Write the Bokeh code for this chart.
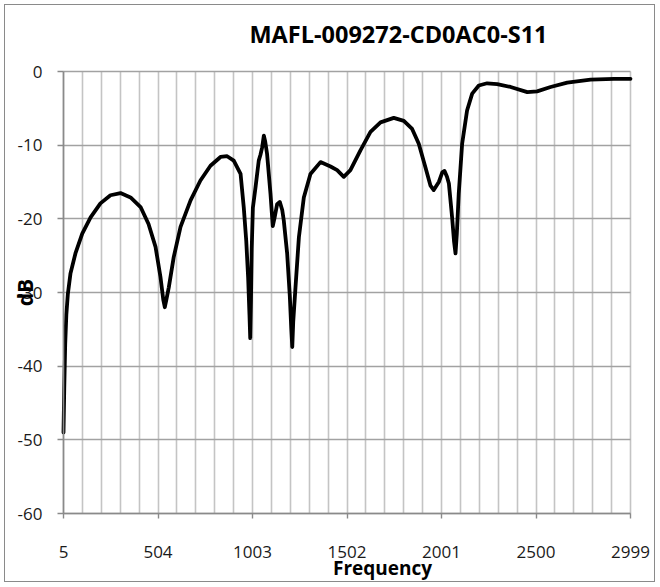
import math
from bokeh.plotting import figure
from bokeh.models import FixedTicker, Label, Range1d
from bokeh.embed import file_html
from bokeh.resources import INLINE

# ---- data ----
freq = [5, 9, 14, 20, 28, 42, 68, 104, 148, 200, 253, 306, 359, 412, 454, 491, 517, 532, 540, 548,
        561, 587, 623, 676, 728, 781, 834, 869, 904, 940, 957, 970, 980, 987, 991, 995, 999, 1005,
        1019, 1036, 1045, 1054, 1063, 1070, 1080, 1098, 1110, 1120, 1133, 1147, 1160, 1168, 1186,
        1200, 1208, 1213, 1218, 1230, 1248, 1274, 1309, 1362, 1415, 1450, 1485, 1520, 1573, 1626,
        1679, 1749, 1802, 1846, 1881, 1916, 1943, 1960, 1987, 2005, 2017, 2030, 2040, 2057, 2067,
        2075, 2082, 2092, 2110, 2136, 2163, 2198, 2242, 2295, 2366, 2454, 2506, 2577, 2665, 2788,
        2911, 2999]
s11_db = [-49.0, -43.0, -37.0, -33.0, -30.2, -27.4, -24.7, -22.0, -19.8, -17.9, -16.8, -16.5, -17.1,
          -18.4, -20.7, -23.8, -27.9, -31.0, -32.0, -31.0, -29.3, -25.2, -21.1, -17.5, -14.8, -12.8,
          -11.6, -11.5, -12.1, -13.9, -18.5, -23.0, -28.0, -33.0, -36.2, -31.0, -24.0, -18.5, -15.7,
          -12.1, -11.3, -10.3, -8.7, -9.5, -11.2, -16.6, -21.0, -19.8, -18.0, -17.7, -18.8, -20.2,
          -24.7, -30.5, -35.0, -37.4, -34.0, -29.3, -22.5, -17.1, -13.9, -12.3, -12.9, -13.4, -14.3,
          -13.4, -10.7, -8.2, -6.9, -6.3, -6.7, -7.8, -9.8, -13.0, -15.5, -16.1, -15.0, -13.7, -13.5,
          -14.3, -15.2, -19.8, -23.0, -24.7, -22.0, -16.6, -9.8, -5.3, -3.0, -1.9, -1.6, -1.7, -2.1,
          -2.8, -2.7, -2.1, -1.5, -1.1, -1.0, -1.0]

x_tick_values = [5, 504, 1003, 1502, 2001, 2500, 2999]
x_grid_values = [5 + k * 99.8 for k in range(31)]
y_tick_values = [-60, -50, -40, -30, -20, -10, 0]

title_text = "MAFL-009272-CD0AC0-S11"
x_title = "Frequency"
y_title = "dB"

FONT = "Open Sans"

# ---- layout (pixels) ----
CANVAS_W, CANVAS_H = 651, 578
CANVAS_LEFT, CANVAS_TOP = 5, 5           # page position of the canvas
PLOT_L, PLOT_R, PLOT_T, PLOT_B = 63, 630, 71, 513   # data area on the page

x0, x1 = x_tick_values[0], x_tick_values[-1]
y0, y1 = y_tick_values[0], y_tick_values[-1]
kx = (x1 - x0) / (PLOT_R - PLOT_L)
ky = (y1 - y0) / (PLOT_B - PLOT_T)
x_start = x0 - (PLOT_L - CANVAS_LEFT) * kx
x_end = x1 + (CANVAS_LEFT + CANVAS_W - PLOT_R) * kx
y_end = y1 + (PLOT_T - CANVAS_TOP) * ky
y_start = y0 - (CANVAS_TOP + CANVAS_H - PLOT_B) * ky


def px_to_x(px):
    return x0 + (px - PLOT_L) * kx


def py_to_y(py):
    return y1 - (py - PLOT_T) * ky


p = figure(width=CANVAS_W, height=CANVAS_H, min_border=0,
           x_range=Range1d(x_start, x_end), y_range=Range1d(y_start, y_end),
           output_backend="svg", toolbar_location=None, title=None,
           background_fill_color="white", border_fill_color="white",
           styles={"margin": "4px 0px 0px 4px", "border": "1px solid #8a8a8a"})
p.outline_line_color = None

# grids limited to the data area
p.xgrid.ticker = FixedTicker(ticks=x_grid_values)
p.xgrid.bounds = (x0, x1)
p.xgrid.cross_bounds = (y0, y1)
p.xgrid.grid_line_color = "#c4c4c4"
p.xgrid.grid_line_width = 1.6
p.ygrid.ticker = FixedTicker(ticks=y_tick_values)
p.ygrid.bounds = (y0, y1)
p.ygrid.cross_bounds = (x0, x1)
p.ygrid.grid_line_color = "#a2a2a2"
p.ygrid.grid_line_width = 1.6

# axes at the data area's edges
p.xaxis.fixed_location = y0
p.yaxis.fixed_location = x0
p.xaxis.bounds = (x0, x1)
p.yaxis.bounds = (y0, y1)
p.xaxis.ticker = FixedTicker(ticks=x_tick_values)
p.yaxis.ticker = FixedTicker(ticks=y_tick_values)
p.xaxis.major_label_overrides = {v: str(v) for v in x_tick_values}
p.yaxis.major_label_overrides = {v: str(v) for v in y_tick_values}
for ax in (p.xaxis[0], p.yaxis[0]):
    ax.axis_line_color = "#8a8a8a"
    ax.axis_line_width = 1.6
    ax.major_tick_line_color = "#8a8a8a"
    ax.major_tick_line_width = 1.4
    ax.major_tick_in = 0
    ax.minor_tick_line_color = None
    ax.major_label_text_font = FONT
    ax.major_label_text_font_size = "17px"
    ax.major_label_text_color = "#1a1a1a"
p.xaxis.major_tick_out = 5
p.xaxis.major_label_standoff = 27
p.yaxis.major_tick_out = 6
p.yaxis.major_label_standoff = 15

# curve
p.line(freq, s11_db, line_color="black", line_width=3.8, line_join="round", line_cap="round")

# texts (anchor points chosen so the glyphs land where the reference shows them)
p.add_layout(Label(x=px_to_x(398), y=py_to_y(33.5), text=title_text, text_font=FONT,
                   text_font_size="23.5px", text_font_style="bold", text_align="center",
                   text_baseline="alphabetic", text_color="black"))
p.add_layout(Label(x=px_to_x(382), y=py_to_y(567.5), text=x_title, text_font=FONT,
                   text_font_size="19px", text_font_style="bold", text_align="center",
                   text_baseline="alphabetic", text_color="black"))
p.add_layout(Label(x=px_to_x(24), y=py_to_y(292), text=y_title, text_font=FONT,
                   text_font_size="21px", text_font_style="bold", text_align="center",
                   text_baseline="alphabetic", angle=math.pi / 2, text_color="black"))

open("out.html", "w").write(file_html(p, INLINE))
